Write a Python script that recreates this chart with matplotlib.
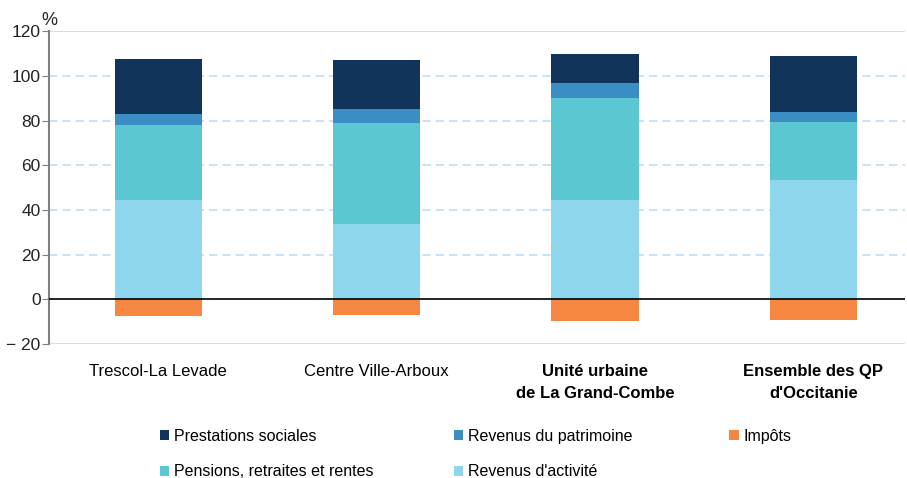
import matplotlib
matplotlib.use("Agg")
import matplotlib.pyplot as plt
import numpy as np
from matplotlib.patches import Patch

categories = ["Trescol-La Levade", "Centre Ville-Arboux", "Unité urbaine\nde La Grand-Combe", "Ensemble des QP\nd'Occitanie"]
bold_cats = [False, False, True, True]
activite = [44.6, 33.9, 44.6, 53.6]
pensions = [33.5, 45.1, 45.6, 25.9]
patrimoine = [4.9, 6.3, 6.7, 4.4]
prestations = [24.6, 21.8, 12.9, 25.0]
impots = [-7.6, -7.1, -9.8, -9.4]
yticks = [-20, 0, 20, 40, 60, 80, 100, 120]

c_act = "#8ED6EE"
c_pen = "#5BC7D3"
c_pat = "#3A8EC4"
c_pre = "#12335A"
c_imp = "#F58742"

plt.rcParams['font.family'] = ['Liberation Sans', 'DejaVu Sans']

fig = plt.figure(figsize=(9.07, 4.78), dpi=100)
ax = fig.add_axes([0.054, 0.280, 0.944, 0.655])

x = np.arange(len(categories))
w = 0.4
act = np.array(activite); pen = np.array(pensions); pat = np.array(patrimoine); pre = np.array(prestations)
ax.bar(x, act, w, color=c_act, zorder=3)
ax.bar(x, pen, w, bottom=act, color=c_pen, zorder=3)
ax.bar(x, pat, w, bottom=act + pen, color=c_pat, zorder=3)
ax.bar(x, pre, w, bottom=act + pen + pat, color=c_pre, zorder=3)
ax.bar(x, impots, w, color=c_imp, zorder=3)

ax.set_ylim(-20, 120)
ax.set_xlim(-0.5, 3.42)
ax.set_yticks(yticks)
ax.set_yticklabels(["\u2212 20" if t < 0 else str(t) for t in yticks], fontsize=12.5)
for t in [20, 40, 60, 80, 100]:
    ax.axhline(t, color="#BFDDF2", lw=1.2, ls=(0, (5, 3)), zorder=1)
ax.axhline(120, color="#BFDDF2", lw=1.2, zorder=1)
ax.axhline(-20, color="#BFDDF2", lw=1.2, zorder=1)
ax.axhline(0, color="black", lw=1.2, zorder=4)

for s in ["top", "right", "bottom"]:
    ax.spines[s].set_visible(False)
ax.spines["left"].set_color("#808080")
ax.spines["left"].set_linewidth(1.5)
ax.tick_params(axis="y", direction="out", length=5, color="#808080", pad=1, labelcolor="#222222")
ax.tick_params(axis="x", length=0, pad=14)
ax.set_xticks(x)
ax.set_xticklabels(categories, fontsize=12, linespacing=1.65)
for lab, b in zip(ax.get_xticklabels(), bold_cats):
    if b:
        lab.set_fontweight("bold")
    lab.set_verticalalignment("top")

fig.text(0.046, 0.958, "%", fontsize=13, ha="left", va="center", color="#222222")

entries = [
    ("Prestations sociales", c_pre, 0.176, 0.087),
    ("Revenus du patrimoine", c_pat, 0.500, 0.087),
    ("Impôts", c_imp, 0.804, 0.087),
    ("Pensions, retraites et rentes", c_pen, 0.176, 0.013),
    ("Revenus d'activité", c_act, 0.500, 0.013),
]
for lab, col, lx, ly in entries:
    fig.legend(handles=[Patch(facecolor=col, label=lab)], loc="center left",
               bbox_to_anchor=(lx, ly), frameon=False, fontsize=11.5,
               handlelength=0.6, handleheight=0.6, handletextpad=0.3, borderpad=0, borderaxespad=0)

fig.savefig("out.png", dpi=100)
